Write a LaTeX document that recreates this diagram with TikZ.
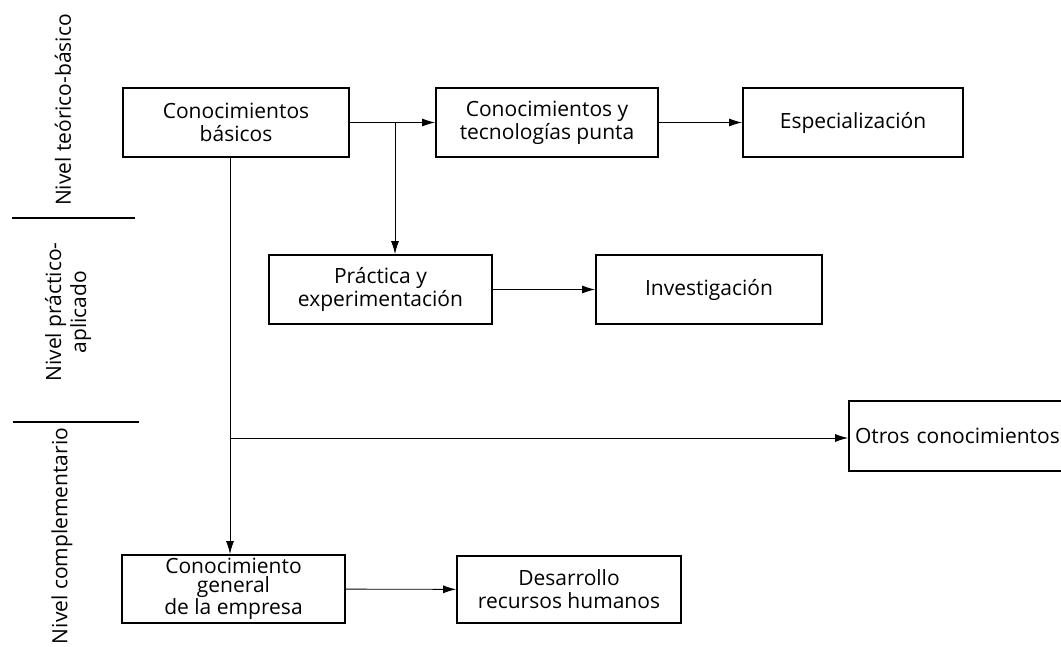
\documentclass[tikz,border=0pt]{standalone}
\usepackage{fontspec}
\setmainfont{Open Sans}
\usetikzlibrary{arrows.meta,calc}
\begin{document}
\begin{tikzpicture}[x=1pt,y=-1pt,
  box/.style={draw,line width=1.8pt,minimum height=69pt,inner sep=0pt,align=center,
    font=\fontsize{21}{23}\selectfont},
  arr/.style={line width=0.9pt,-{Latex[length=13pt,width=8pt]}},
  sep/.style={line width=1.1pt},
  lvl/.style={rotate=90,align=center,font=\fontsize{21}{25}\selectfont}]
\useasboundingbox (0,0) rectangle (1061,647);
\node[box,minimum width=226pt] (b1) at (236,122.5) {Conocimientos\\básicos};
\node[box,minimum width=222pt] (b2) at (547,122.5) {Conocimientos y\\tecnologías punta};
\node[box,minimum width=220pt] (b3) at (853,122.5) {Especialización};
\node[box,minimum width=223pt] (b4) at (380.5,289.5) {Práctica y\\experimentación};
\node[box,minimum width=226pt] (b5) at (709,289.5) {Investigación};
\node[box,minimum width=240pt,minimum height=70pt,text width=230pt,align=left] (b6) at (969,436) {\hspace*{1pt}Otros conocimientos};
\node[box,minimum width=223pt,minimum height=68pt,font=\fontsize{21}{19}\selectfont] (b7) at (233.5,589) {Conocimiento\\general\\de la empresa};
\node[box,minimum width=224pt,minimum height=67pt] (b8) at (569,589.5) {Desarrollo\\recursos humanos};
\coordinate (j1) at (395,122.5);
\coordinate (t1) at (230,157);
\coordinate (j2) at (230,438);
\draw[arr] (b1) -- (b2);
\draw[arr] (b2) -- (b3);
\draw[arr] (j1) -- (j1 |- b4.north);
\draw[arr] (b4) -- (b5);
\draw[arr] (t1) -- (t1 |- b7.north);
\draw[arr] (j2) -- (j2 -| b6.west);
\draw[arr] (b7) -- (b8);
\node[lvl] (l1) at (63,110) {Nivel teórico-básico};
\node[lvl] (l2) at (68,312) {Nivel práctico-\\aplicado};
\node[lvl] (l3) at (62,536) {Nivel complementario};
\draw[sep] (12,218) coordinate (s1a) -- (135,218) coordinate (s1b);
\draw[sep] (13,422) coordinate (s2a) -- (139,422) coordinate (s2b);
\end{tikzpicture}
\end{document}
